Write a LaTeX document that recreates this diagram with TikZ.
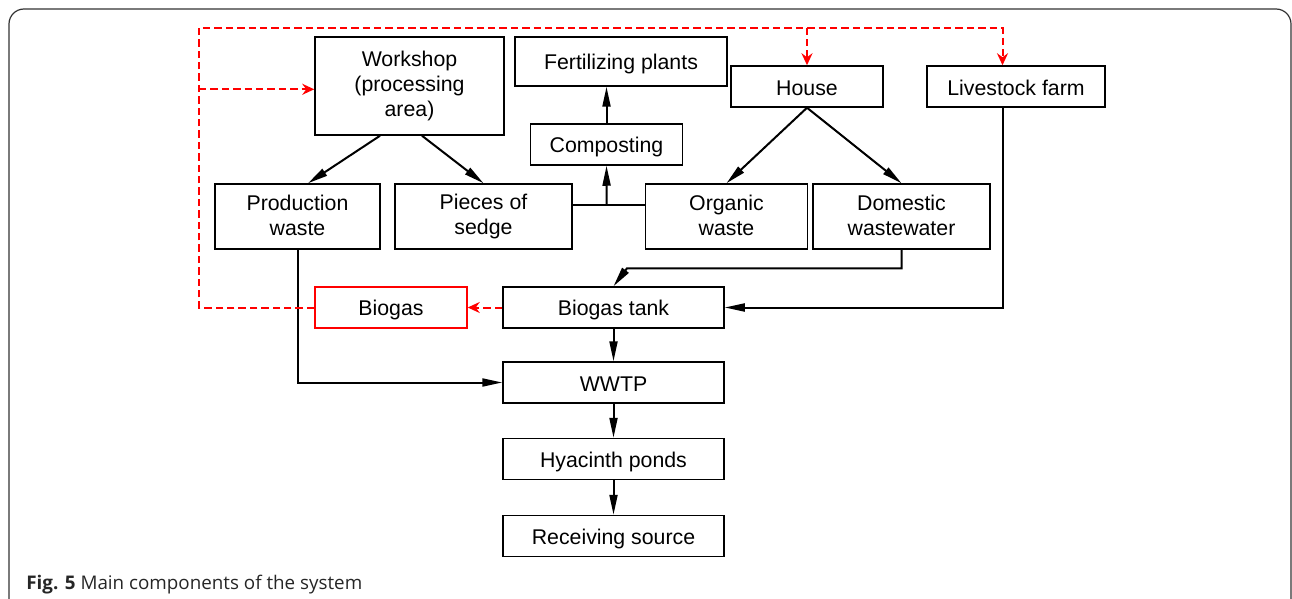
\documentclass[tikz,border=0pt]{standalone}
\usepackage{fontspec}
\setmainfont{Liberation Sans}
\newfontfamily\capfont{Open Sans}
\usetikzlibrary{arrows.meta}
\newcommand\boxtop{\rule{0pt}{10.4pt}}
\newcommand\boxbot{\rule[-1.3pt]{0pt}{0pt}}

\begin{document}
\begin{tikzpicture}[x=0.5pt,y=0.5pt]
	\tikzstyle{every node}+=[inner sep=0pt]
	\tikzstyle{blk}=[draw=black, line width=0.75pt, align=center, font=\fontsize{10.65}{12.4}\selectfont, execute at begin node=\boxtop, execute at end node=\boxbot]
	\tikzstyle{flow}=[black, line width=1pt, -{Triangle[length=10pt,width=4pt]}]
	\tikzstyle{gasflow}=[red, line width=1pt, dash pattern=on 3.7pt off 2pt, -{Stealth[length=6pt,width=5.5pt,inset=2pt]}]
	\useasboundingbox (0,0) rectangle (1292,-599);
	% frame and caption
	\draw [black!80, line width=0.6pt, rounded corners=7.5pt] (9,-610) -- (9,-9) -- (1291,-9) -- (1291,-610);
	\node [anchor=base west, text=black!85, font=\capfont\fontsize{9.4}{11}\selectfont] (cap) at (26,-589.3) {\textbf{Fig. 5} Main components of the system};
	% top row
	\node [blk, minimum width=94.5pt, minimum height=49pt] (work) at (409.5,-86) {Workshop\\(processing\\area)};
	\node [blk, minimum width=106pt, minimum height=24.5pt] (fert) at (621,-61.5) {Fertilizing plants};
	\node [blk, minimum width=76pt, minimum height=20.5pt] (comp) at (606.5,-144.5) {Composting};
	\node [blk, minimum width=76pt, minimum height=20.5pt] (house) at (807,-86.5) {House};
	\node [blk, minimum width=89pt, minimum height=20.5pt] (live) at (1016,-86.5) {Livestock farm};
	% waste row
	\node [blk, minimum width=82.5pt, minimum height=32.5pt] (prod) at (297.5,-216.5) {Production\\waste};
	\node [blk, minimum width=88.5pt, minimum height=32.5pt] (piec) at (483.5,-216.5) {Pieces of\\sedge};
	\node [blk, minimum width=81pt, minimum height=32.5pt] (org) at (726.5,-216.5) {Organic\\waste};
	\node [blk, minimum width=88.5pt, minimum height=32.5pt] (dom) at (901.5,-216.5) {Domestic\\wastewater};
	% treatment chain
	\node [blk, draw=red, minimum width=76pt, minimum height=20.5pt] (gas) at (391,-307.5) {Biogas};
	\node [blk, minimum width=110.5pt, minimum height=20.5pt] (tank) at (613.5,-307.5) {Biogas tank};
	\node [blk, minimum width=110.5pt, minimum height=20.5pt] (wwtp) at (613.5,-382.5) {WWTP};
	\node [blk, minimum width=110.5pt, minimum height=20.5pt] (hyac) at (613.5,-459) {Hyacinth ponds};
	\node [blk, minimum width=110.5pt, minimum height=20.5pt] (recv) at (613.5,-536) {Receiving source};
	\coordinate (rtop) at (199,-27.7);
	\coordinate (rmid) at (199,-89.3);
	\coordinate (jn) at (606.7,-204.7);
	\coordinate (dbend) at (627,-268.3);
	% black connectors
	\draw [flow] ([xshift=-14.75pt]work.south) -- ([xshift=5.25pt]prod.north);
	\draw [flow] ([xshift=6.25pt]work.south) -- (piec.north);
	\draw [flow] (house.south) -- (org.north);
	\draw [flow] (house.south) -- (dom.north);
	\draw [flow] (comp.north) -- (comp.north |- fert.south);
	\draw [black, line width=1pt] ([yshift=5.9pt]piec.east) -- ([yshift=5.9pt]org.west);
	\draw [flow] (jn) -- (comp.south);
	\draw [flow] (dom.south) |- (dbend) -- (tank.north);
	\draw [flow] ([xshift=-6.75pt]live.south) |- (tank.east);
	\draw [flow] (prod.south) |- (wwtp.west);
	\draw [flow] (tank.south) -- (wwtp.north);
	\draw [flow] (wwtp.south) -- (hyac.north);
	\draw [flow] (hyac.south) -- (recv.north);
	% biogas return lines
	\draw [gasflow] (tank.west) -- (gas.east);
	\draw [gasflow] (gas.west) -| (rtop) -| ([xshift=-6.75pt]live.north);
	\draw [gasflow] (house.north |- rtop) -- (house.north);
	\draw [gasflow] (rmid) -- (rmid -| work.west);
\end{tikzpicture}
\end{document}
